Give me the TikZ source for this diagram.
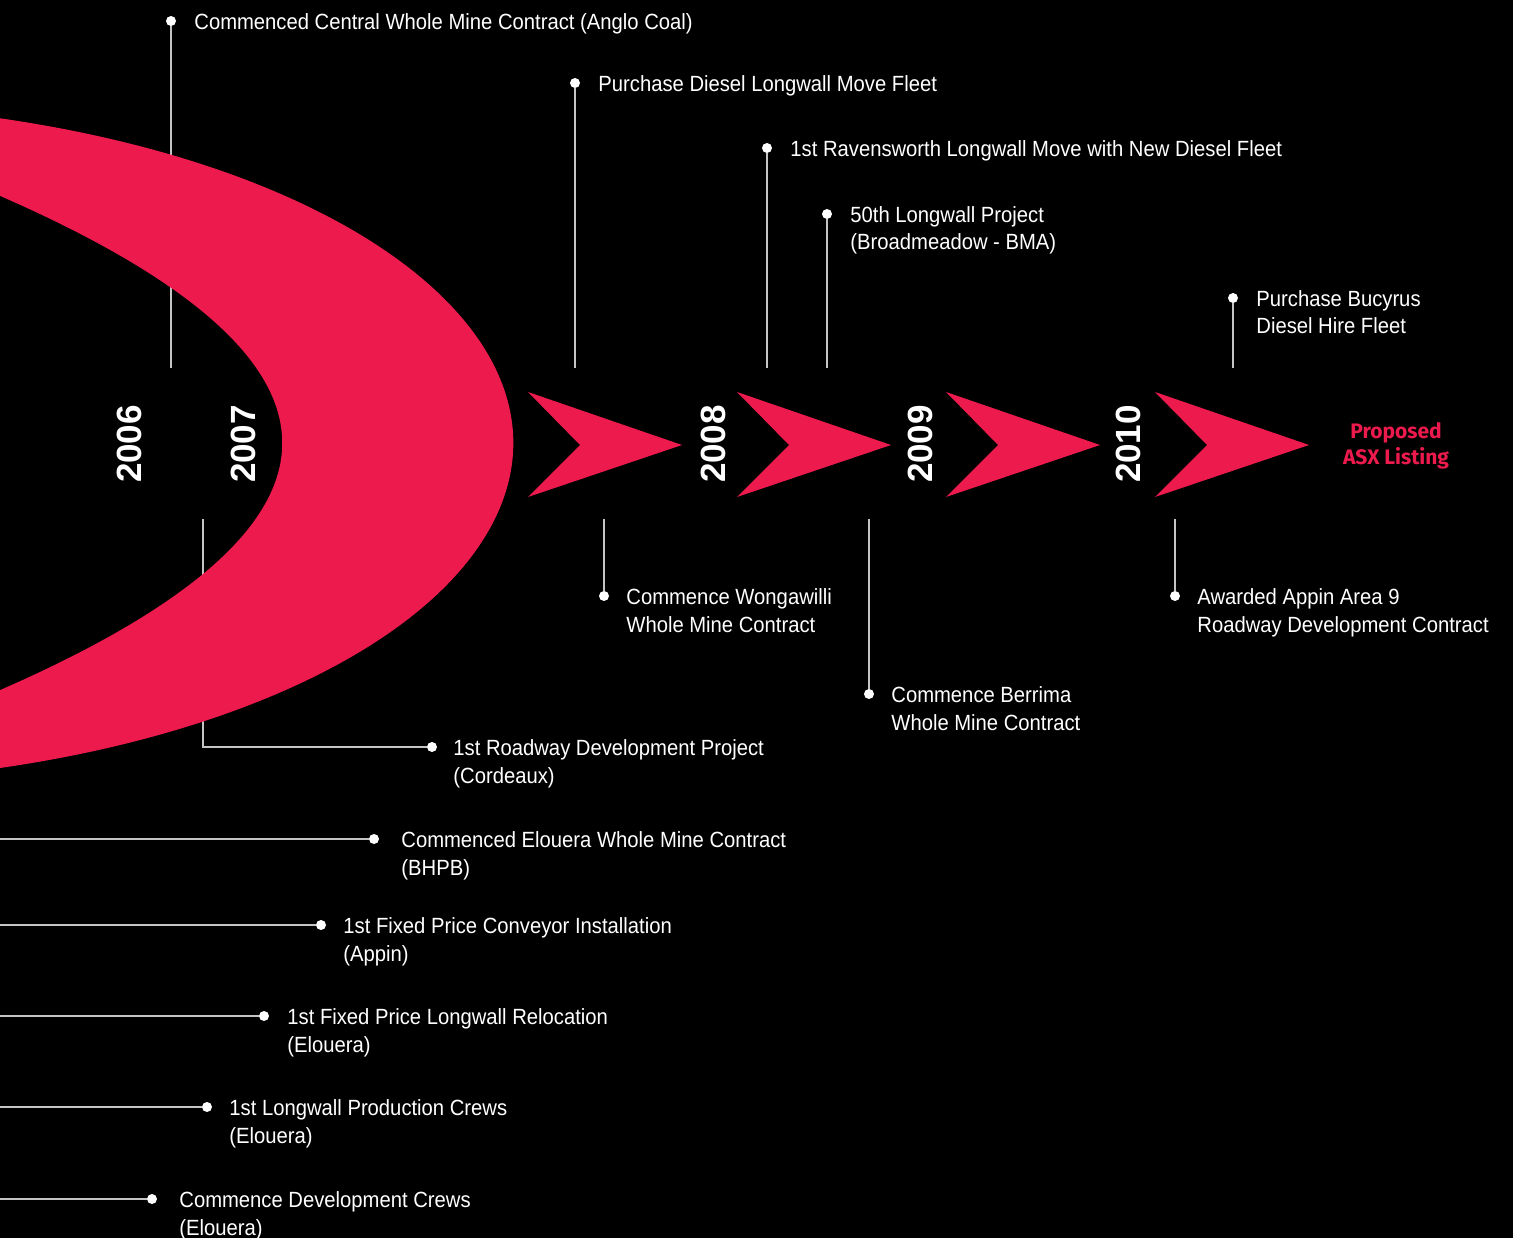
\documentclass[tikz,border=0pt]{standalone}
\usepackage{fontspec}
\setmainfont{Liberation Sans}[FakeStretch=0.92]
\newfontfamily\yearfont{Liberation Sans}
\newfontfamily\asxfont{Fira Sans}
\usepackage{xcolor}
\usetikzlibrary{positioning}
\definecolor{crimson}{HTML}{ED1A4D}
\definecolor{leadgrey}{HTML}{C4C4C4}

\begin{document}
\begin{tikzpicture}[x=1pt, y=-1pt,
    dot/.style={circle, fill=white, inner sep=0pt, minimum size=10pt},
    leader/.style={draw=leadgrey, line width=1.6pt},
    event/.style={align=left, inner sep=0pt, text=white, font=\fontsize{22}{27.5}\selectfont},
    year/.style={rotate=90, inner sep=0pt, text=white, font=\yearfont\bfseries\fontsize{35}{40}\selectfont},
    asx/.style={align=center, inner sep=0pt, text=crimson, font=\asxfont\bfseries\fontsize{21}{26.5}\selectfont}]
    \fill[black] (0,0) rectangle (1513,1238);
    \useasboundingbox (0,0) rectangle (1513,1238);

    \node[dot] (d1) at (171,21) {};
    \node[dot] (d2) at (575,83) {};
    \node[dot] (d3) at (767,148) {};
    \node[dot] (d4) at (827,214) {};
    \node[dot] (d5) at (1233,298) {};
    \node[dot] (d6) at (604,596) {};
    \node[dot] (d7) at (869,694) {};
    \node[dot] (d8) at (1175,596) {};
    \node[dot] (d9) at (432,747) {};
    \node[dot] (d10) at (374,839) {};
    \node[dot] (d11) at (321,925) {};
    \node[dot] (d12) at (264,1016) {};
    \node[dot] (d13) at (207,1107) {};
    \node[dot] (d14) at (152,1199) {};

    \coordinate (e1) at (171,368);
    \coordinate (e2) at (575,368);
    \coordinate (e3) at (767,368);
    \coordinate (e4) at (827,368);
    \coordinate (e5) at (1233,368);
    \coordinate (e6) at (604,519);
    \coordinate (e7) at (869,519);
    \coordinate (e8) at (1175,519);
    \coordinate (e9) at (203,519);
    \coordinate (e10) at (-2,839);
    \coordinate (e11) at (-2,925);
    \coordinate (e12) at (-2,1016);
    \coordinate (e13) at (-2,1107);
    \coordinate (e14) at (-2,1199);

    \draw[leader] (e1) -- (d1);
    \draw[leader] (e2) -- (d2);
    \draw[leader] (e3) -- (d3);
    \draw[leader] (e4) -- (d4);
    \draw[leader] (e5) -- (d5);
    \draw[leader] (e6) -- (d6);
    \draw[leader] (e7) -- (d7);
    \draw[leader] (e8) -- (d8);
    \draw[leader] (e9) |- (d9);
    \draw[leader] (e10) -- (d10);
    \draw[leader] (e11) -- (d11);
    \draw[leader] (e12) -- (d12);
    \draw[leader] (e13) -- (d13);
    \draw[leader] (e14) -- (d14);

    \fill[crimson] (-2,118) arc[start angle=-73, end angle=73, x radius=728, y radius=340]
        -- (-2,691) .. controls (377,526) and (377,360) .. (-2,195) -- cycle;

    \fill[crimson] (528,392) -- (682,445) -- (528,497) -- (580,445) -- cycle;
    \fill[crimson] (737,392) -- (891,445) -- (737,497) -- (789,445) -- cycle;
    \fill[crimson] (946,392) -- (1100,445) -- (946,497) -- (998,445) -- cycle;
    \fill[crimson] (1155,392) -- (1309,445) -- (1155,497) -- (1207,445) -- cycle;

    \node[year] (y06) at (129,444) {2006};
    \node[year] (y07) at (243,444) {2007};
    \node[year] (y08) at (713,444) {2008};
    \node[year] (y09) at (920,444) {2009};
    \node[year] (y10) at (1128,444) {2010};
    \node[asx] (ipo) at (1396,446) {Proposed\\ASX Listing};

    \node[event, right=18pt of d1, anchor=base west, yshift=-8.5pt] (t1) {Commenced Central Whole Mine Contract (Anglo Coal)};
    \node[event, right=18pt of d2, anchor=base west, yshift=-8.5pt] (t2) {Purchase Diesel Longwall Move Fleet};
    \node[event, right=18pt of d3, anchor=base west, yshift=-8.5pt] (t3) {1st Ravensworth Longwall Move with New Diesel Fleet};
    \node[event, right=18pt of d4, anchor=base west, yshift=-36pt] (t4) {50th Longwall Project\\(Broadmeadow - BMA)};
    \node[event, right=18pt of d5, anchor=base west, yshift=-36pt] (t5) {Purchase Bucyrus\\Diesel Hire Fleet};
    \node[event, right=17pt of d6, anchor=base west, yshift=-36pt] (t6) {Commence Wongawilli\\Whole Mine Contract};
    \node[event, right=17pt of d7, anchor=base west, yshift=-36pt] (t7) {Commence Berrima\\Whole Mine Contract};
    \node[event, right=17pt of d8, anchor=base west, yshift=-36pt] (t8) {Awarded Appin Area 9\\Roadway Development Contract};
    \node[event, right=16pt of d9, anchor=base west, yshift=-36pt] (t9) {1st Roadway Development Project\\(Cordeaux)};
    \node[event, right=22pt of d10, anchor=base west, yshift=-36pt] (t10) {Commenced Elouera Whole Mine Contract\\(BHPB)};
    \node[event, right=17pt of d11, anchor=base west, yshift=-36pt] (t11) {1st Fixed Price Conveyor Installation\\(Appin)};
    \node[event, right=18pt of d12, anchor=base west, yshift=-36pt] (t12) {1st Fixed Price Longwall Relocation\\(Elouera)};
    \node[event, right=17pt of d13, anchor=base west, yshift=-36pt] (t13) {1st Longwall Production Crews\\(Elouera)};
    \node[event, right=22pt of d14, anchor=base west, yshift=-36pt] (t14) {Commence Development Crews\\(Elouera)};
\end{tikzpicture}
\end{document}
